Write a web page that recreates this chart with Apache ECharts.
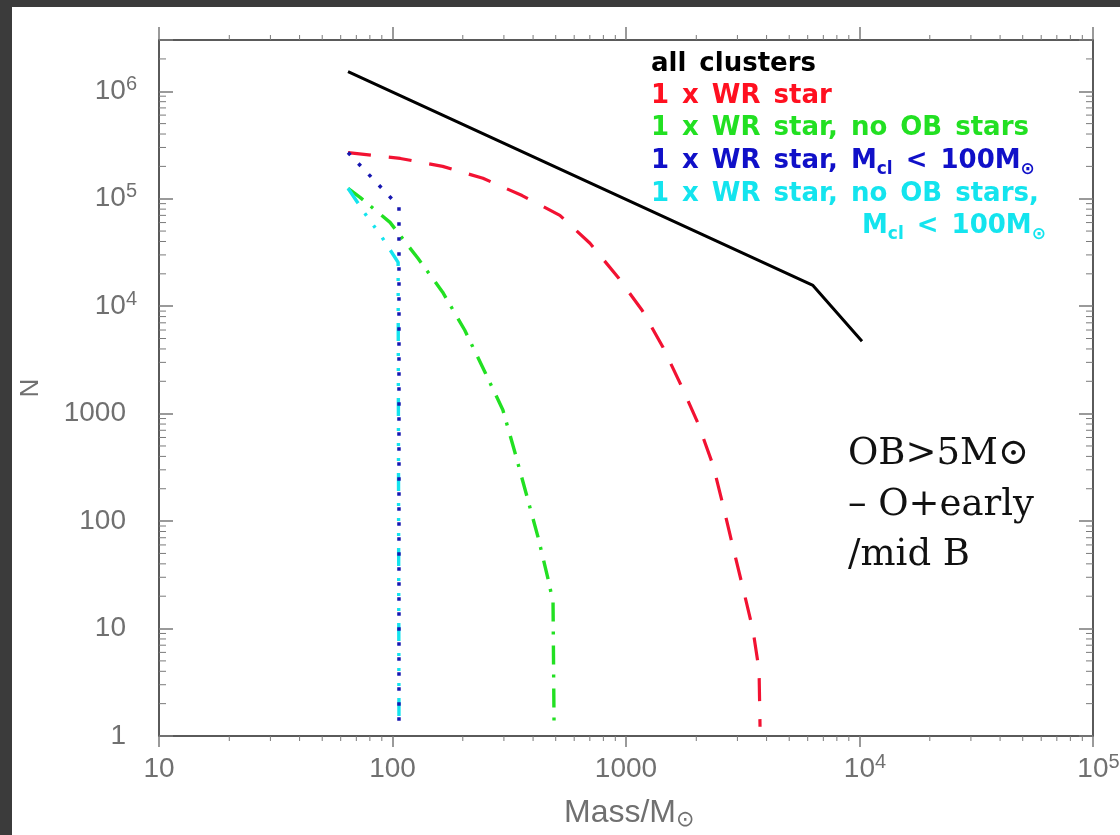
<!DOCTYPE html>
<html>
<head>
<meta charset="utf-8">
<script src="https://cdn.jsdelivr.net/npm/echarts/dist/echarts.min.js"></script>
<style>
  html, body { margin: 0; padding: 0; background: #ffffff; }
  #chart { width: 1120px; height: 835px; }
</style>
</head>
<body>
<div id="chart"></div>
<script>
// Cluster mass (M_sun) and number of clusters N for each population
const massAll = [64.5, 6320, 10250];
const nAll = [1.52e6, 1.56e4, 4720];

const massWR = [64.5, 108, 164, 244, 359, 521, 701, 924, 1172, 1440, 1737, 2033, 2358, 2603, 2870, 3168, 3497, 3714, 3750];
const nWR = [2.69e5, 2.37e5, 2.0e5, 1.55e5, 1.07e5, 7.0e4, 3.85e4, 1.86e4, 9160, 4150, 1760, 817, 332, 141, 57.5, 23.9, 9.7, 4.1, 1.22];

const massWRnoOB = [64.5, 72.6, 97.6, 128.5, 164, 204, 249, 297, 335, 377, 420, 468, 487, 492];
const nWRnoOB = [1.25e5, 1.03e5, 6.02e4, 2.79e4, 1.35e4, 5970, 2430, 1080, 430, 168, 71, 26.6, 17.5, 1.22];

const massWRsmall = [64.5, 106.6, 106.6];
const nWRsmall = [2.69e5, 8.48e4, 1.22];

const massWRnoOBsmall = [64.5, 76.2, 90.2, 105.7, 106.6];
const nWRnoOBsmall = [1.25e5, 7.3e4, 4.37e4, 2.56e4, 1.22];

// Axis ranges and minor tick positions
const X_MIN = 10, X_MAX = 1e5;
const Y_MIN = 1, Y_MAX = 3e6;
const minorSteps = [2, 3, 4, 5, 6, 7, 8, 9];
const xDecades = [10, 100, 1000, 10000];
const yDecades = [1, 10, 100, 1000, 1e4, 1e5];
const yExtraMinor = [2e6];

const xMinorTicks = xDecades.flatMap(d => minorSteps.map(s => s * d));
const yMinorTicks = yDecades.flatMap(d => minorSteps.map(s => s * d)).concat(yExtraMinor);

const AXIS_GREY = '#5a5a5a';
const TICK_GREY = '#7a7a7a';
const LABEL_GREY = '#707070';
const SANS = 'Liberation Sans';
const SP = '\u2002'; // wide word space used in the legend lines

const pairs = (xs, ys) => xs.map((x, i) => [x, ys[i]]);

function isPow10(v) {
  const e = Math.log10(v);
  return Math.abs(e - Math.round(e)) < 1e-6;
}
function xLabel(v) {
  if (!isPow10(v)) return '';
  const e = Math.round(Math.log10(v));
  return e >= 4 ? '{bp|10}{s|' + e + '}' : '{b|' + Math.round(v) + '}';
}
function yLabel(v) {
  if (!isPow10(v)) return '';
  const e = Math.round(Math.log10(v));
  return e >= 4 ? '{b|10}{s|' + e + '}' : '{bq|' + Math.round(v) + '}';
}
const labelRich = {
  b:  { fontFamily: SANS, fontSize: 28, lineHeight: 34, color: LABEL_GREY },
  bp: { fontFamily: SANS, fontSize: 28, lineHeight: 34, color: LABEL_GREY, padding: [0, 0, 0, 11] },
  bq: { fontFamily: SANS, fontSize: 28, lineHeight: 34, color: LABEL_GREY, padding: [0, 11, 0, 0] },
  s:  { fontFamily: SANS, fontSize: 20, lineHeight: 20, color: LABEL_GREY, verticalAlign: 'top' }
};

// Short minor tick marks on all four sides of the frame
function minorTick(params, api) {
  const side = api.value(2);
  const p = api.coord([api.value(0), api.value(1)]);
  let x2 = p[0], y2 = p[1];
  if (side === 0) y2 += 5;
  else if (side === 1) y2 -= 5;
  else if (side === 2) x2 += 7;
  else x2 -= 7;
  return {
    type: 'line',
    shape: { x1: p[0], y1: p[1], x2: x2, y2: y2 },
    style: { stroke: TICK_GREY, lineWidth: 1 }
  };
}
const tickData = []
  .concat(xMinorTicks.map(v => [v, Y_MIN, 0]))
  .concat(xMinorTicks.map(v => [v, Y_MAX, 1]))
  .concat(yMinorTicks.map(v => [X_MIN, v, 2]))
  .concat(yMinorTicks.map(v => [X_MAX, v, 3]));

function xAxisDef(pos, showLabel) {
  return {
    type: 'log', logBase: 10, min: X_MIN, max: X_MAX, position: pos,
    axisLine: { show: true, lineStyle: { color: AXIS_GREY, width: 2 } },
    axisTick: { show: true, inside: false, length: pos === 'top' ? 13 : 11, lineStyle: { color: TICK_GREY, width: 1.5 } },
    axisLabel: { show: showLabel, margin: 16, formatter: xLabel, rich: labelRich },
    splitLine: { show: false }, minorTick: { show: false }
  };
}
function yAxisDef(pos, showLabel) {
  return {
    type: 'log', logBase: 10, min: Y_MIN, max: Y_MAX, position: pos,
    axisLine: { show: true, lineStyle: { color: AXIS_GREY, width: 2 } },
    axisTick: { show: true, inside: true, length: 14, lineStyle: { color: TICK_GREY, width: 1.5 } },
    axisLabel: { show: showLabel, margin: 22, formatter: yLabel, rich: labelRich },
    splitLine: { show: false }, minorTick: { show: false }
  };
}

function legendLine(words, color, x, y) {
  return {
    type: 'text', x: x, y: y, silent: true,
    style: {
      text: words.join(SP), fill: color, fontFamily: 'DejaVu Sans', fontWeight: 'bold', fontSize: 26,
      lineHeight: 34, align: 'left', verticalAlign: 'middle',
      rich: {
        sub: { fill: color, fontFamily: 'DejaVu Sans', fontWeight: 'bold', fontSize: 17, lineHeight: 12, verticalAlign: 'bottom' },
        sun: { fill: color, fontFamily: 'DejaVu Sans', fontWeight: 'bold', fontSize: 17, lineHeight: 12, verticalAlign: 'bottom' }
      }
    }
  };
}
function noteLine(text, y) {
  return {
    type: 'text', x: 848, y: y, silent: true,
    style: { text: text, fill: '#111111', fontFamily: 'DejaVu Serif', fontSize: 37, align: 'left', verticalAlign: 'middle' }
  };
}

const C_BLACK = '#000000', C_RED = '#f21232', C_GREEN = '#22e022', C_BLUE = '#1616b0', C_CYAN = '#14e4ee';

const chart = echarts.init(document.getElementById('chart'), null, { renderer: 'canvas' });
chart.setOption({
  animation: false,
  backgroundColor: '#ffffff',
  grid: { left: 159, right: 27, top: 40, bottom: 99, containLabel: false, outerBoundsMode: 'none' },
  xAxis: [xAxisDef('bottom', true), xAxisDef('top', false)],
  yAxis: [yAxisDef('left', true), yAxisDef('right', false)],
  series: [
    {
      name: 'all clusters', type: 'line', data: pairs(massAll, nAll), showSymbol: false, symbol: 'none',
      lineStyle: { color: C_BLACK, width: 3 }, z: 3
    },
    {
      name: '1 x WR star', type: 'line', data: pairs(massWR, nWR), showSymbol: false, symbol: 'none',
      lineStyle: { color: C_RED, width: 3.2, type: [23, 18] }, z: 3
    },
    {
      name: '1 x WR star, no OB stars', type: 'line', data: pairs(massWRnoOB, nWRnoOB), showSymbol: false, symbol: 'none',
      lineStyle: { color: C_GREEN, width: 3.4, type: [19, 10, 3, 11] }, z: 3
    },
    {
      name: '1 x WR star, no OB stars, Mcl < 100', type: 'line', data: pairs(massWRnoOBsmall, nWRnoOBsmall), showSymbol: false, symbol: 'none',
      lineStyle: { color: C_CYAN, width: 3.4, type: [18, 12, 3, 12, 3, 12, 3, 12] }, z: 3
    },
    {
      name: '1 x WR star, Mcl < 100', type: 'line', data: pairs(massWRsmall, nWRsmall), showSymbol: false, symbol: 'none',
      lineStyle: { color: C_BLUE, width: 3.5, type: [3.5, 11.5] }, z: 4
    },
    {
      name: 'minor ticks', type: 'custom', renderItem: minorTick, data: tickData, silent: true,
      dimensions: ['x', 'y', 'side'], encode: { x: 0, y: 1 }, clip: false, z: 5
    }
  ],
  graphic: [
    { type: 'rect', shape: { x: 0, y: 0, width: 1120, height: 7 }, style: { fill: '#3b3b3b' }, silent: true },
    { type: 'rect', shape: { x: 0, y: 0, width: 12, height: 835 }, style: { fill: '#3b3b3b' }, silent: true },
    legendLine(['all', 'clusters'], C_BLACK, 651, 64),
    legendLine(['1', 'x', 'WR', 'star'], '#ff1020', 651, 96),
    legendLine(['1', 'x', 'WR', 'star,', 'no', 'OB', 'stars'], C_GREEN, 651, 128),
    legendLine(['1', 'x', 'WR', 'star,', 'M{sub|cl}', '<', '100M{sun|⊙}'], '#1010c8', 651, 161),
    legendLine(['1', 'x', 'WR', 'star,', 'no', 'OB', 'stars,'], C_CYAN, 651, 194),
    legendLine(['M{sub|cl}', '<', '100M{sun|⊙}'], C_CYAN, 862, 226),
    noteLine('OB>5M⊙', 454),
    noteLine('– O+early', 505),
    noteLine('/mid B', 555),
    {
      type: 'text', x: 31, y: 388, rotation: Math.PI / 2, silent: true,
      style: { text: 'N', fill: LABEL_GREY, fontFamily: SANS, fontSize: 26, align: 'center', verticalAlign: 'middle' }
    },
    {
      type: 'text', x: 564, y: 813, silent: true,
      style: {
        text: 'Mass/M{sun|⊙}', fill: LABEL_GREY, fontFamily: SANS, fontSize: 32, lineHeight: 36,
        align: 'left', verticalAlign: 'middle',
        rich: { sun: { fill: LABEL_GREY, fontFamily: 'DejaVu Sans', fontSize: 22, lineHeight: 16, verticalAlign: 'bottom' } }
      }
    }
  ]
});
</script>
</body>
</html>
